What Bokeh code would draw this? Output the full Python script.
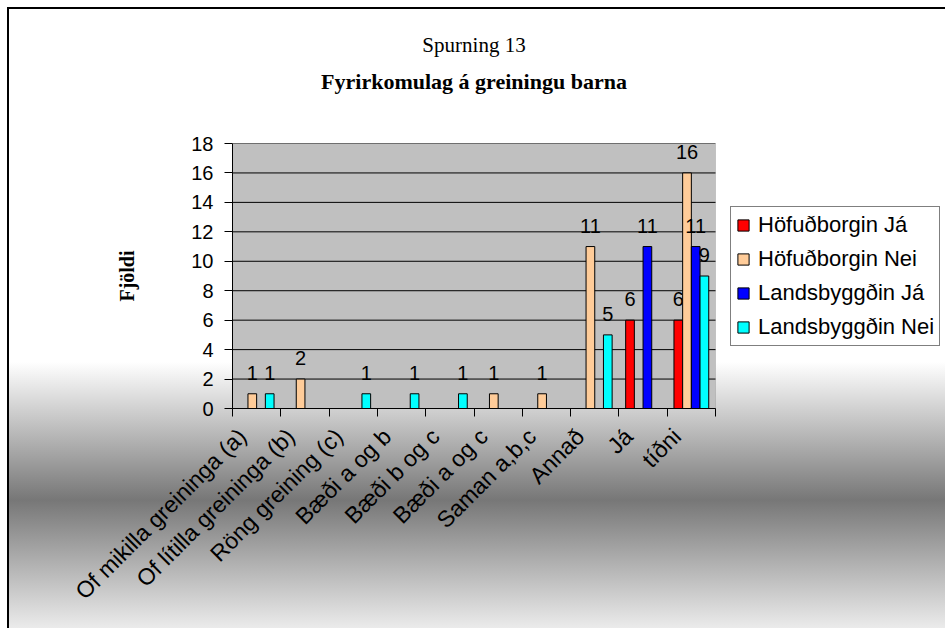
import math
from bokeh.plotting import figure
from bokeh.layouts import column
from bokeh.models import (Range1d, FixedTicker, Legend, LegendItem, Label,
                          BoxAnnotation, ColumnDataSource)
from bokeh.core.properties import value
from bokeh.embed import file_html
from bokeh.resources import INLINE

# ---- data ----
categories = ["Of mikilla greininga (a)", "Of lítilla greininga (b)", "Röng greining (c)",
              "Bæði a og b", "Bæði b og c", "Bæði a og c", "Saman a,b,c", "Annað",
              "Já", "tíðni"]
series_names = ["Höfuðborgin Já", "Höfuðborgin Nei", "Landsbyggðin Já", "Landsbyggðin Nei"]
hofudborgin_ja = [0, 0, 0, 0, 0, 0, 0, 0, 6, 6]
hofudborgin_nei = [1, 2, 0, 0, 0, 1, 1, 11, 0, 16]
landsbyggdin_ja = [0, 0, 0, 0, 0, 0, 0, 0, 11, 11]
landsbyggdin_nei = [1, 0, 1, 1, 1, 0, 0, 5, 0, 9]
y_ticks = list(range(0, 19, 2))
y_max = 18
title_text = "Spurning 13"
subtitle_text = "Fyrirkomulag á greiningu barna"
y_title = "Fjöldi"

series_values = [hofudborgin_ja, hofudborgin_nei, landsbyggdin_ja, landsbyggdin_nei]
colors = ["#FF0000", "#FFCC99", "#0000FF", "#00FFFF"]

SANS = "Liberation Sans"
SERIF = "Liberation Serif"

# layout (pixels)
W = 945
TOP_H = 123                     # height of the title strip
GAP_TOP = 20                    # space above the grey plot area in the chart
LEFT, BOTTOM = 232, 220
PLOT_W, PLOT_H = 483, 265       # grey plot area
FRAME_W = W - LEFT
ncat = len(categories)

x_range = Range1d(0, ncat * FRAME_W / PLOT_W)

# ---------- title strip ----------
pt = figure(width=W, height=TOP_H, x_range=x_range, y_range=Range1d(0, 1),
            output_backend="svg", toolbar_location=None, title=None,
            x_axis_location=None, y_axis_location=None,
            min_border_left=LEFT, min_border_right=0, min_border_top=0, min_border_bottom=0,
            background_fill_color=None, border_fill_color=None, outline_line_color=None)
pt.grid.grid_line_color = None
pt.add_layout(Label(x=ncat / 2, y=79, x_units="data", y_units="screen", text=title_text,
                    text_font=SERIF, text_font_size="21px", text_align="center",
                    text_baseline="alphabetic", text_color="black"))
pt.add_layout(Label(x=ncat / 2, y=42, x_units="data", y_units="screen", text=subtitle_text,
                    text_font=SERIF, text_font_size="22px", text_font_style="bold",
                    text_align="center", text_baseline="alphabetic", text_color="black"))

# ---------- chart ----------
p = figure(width=W, height=GAP_TOP + PLOT_H + BOTTOM,
           x_range=x_range, y_range=Range1d(0, y_max),
           output_backend="svg", toolbar_location=None, title=None,
           min_border_left=LEFT, min_border_right=0, min_border_top=GAP_TOP,
           min_border_bottom=BOTTOM, background_fill_color=None,
           border_fill_color=None, outline_line_color=None)

# grey plot area
p.add_layout(BoxAnnotation(left=0, right=ncat, bottom=0, top=y_max,
                           fill_color="#C0C0C0", fill_alpha=1,
                           line_color="#808080", line_width=1, level="underlay"))

# horizontal grid lines
p.segment(x0=[0] * len(y_ticks), x1=[ncat] * len(y_ticks), y0=y_ticks, y1=y_ticks,
          line_color="black", line_width=1)

bar_w = 0.18
offsets = [-1.5 * bar_w, -0.5 * bar_w, 0.5 * bar_w, 1.5 * bar_w]
renderers = []
for name, vals, col, off in zip(series_names, series_values, colors, offsets):
    xs = [i + 0.5 + off for i, v in enumerate(vals) if v > 0]
    ys = [v for v in vals if v > 0]
    src = ColumnDataSource(dict(x=xs, top=ys, lab=[str(v) for v in ys]))
    r = p.vbar(x="x", top="top", width=bar_w, source=src, fill_color=col,
               line_color="black", line_width=1)
    renderers.append(r)
    p.text(x="x", y="top", text="lab", source=src, text_align="center",
           text_baseline="alphabetic", y_offset=-21, text_font=value(SANS),
           text_font_size="20px", text_color="black")

# axes
label_shift = 0.3   # rotated labels sit slightly left of the category centre
xa = p.xaxis[0]
xa.bounds = (0, ncat)
xa.ticker = FixedTicker(ticks=[i + 0.5 - label_shift for i in range(ncat)],
                        minor_ticks=list(range(ncat + 1)))
xa.major_label_overrides = {i + 0.5 - label_shift: c for i, c in enumerate(categories)}
xa.major_tick_out = 0
xa.major_tick_in = 0
xa.major_tick_line_color = None
xa.minor_tick_out = 8
xa.minor_tick_in = 0
xa.minor_tick_line_color = "black"
xa.axis_line_color = "black"
xa.major_label_orientation = math.pi / 4
xa.major_label_text_font = SANS
xa.major_label_text_font_size = "23px"
xa.major_label_text_color = "black"
xa.major_label_standoff = 16

ya = p.yaxis[0]
ya.bounds = (0, y_max)
ya.ticker = FixedTicker(ticks=y_ticks)
ya.major_tick_out = 8
ya.major_tick_in = 0
ya.minor_tick_line_color = None
ya.major_tick_line_color = "black"
ya.axis_line_color = "black"
ya.major_label_text_font = SANS
ya.major_label_text_font_size = "20px"
ya.major_label_text_color = "black"
ya.major_label_standoff = 11
ya.axis_label = y_title
ya.axis_label_text_font = SERIF
ya.axis_label_text_font_style = "bold"
ya.axis_label_text_font_size = "20px"
ya.axis_label_text_color = "black"
ya.axis_label_standoff = 50

p.xgrid.grid_line_color = None
p.ygrid.grid_line_color = None

legend = Legend(items=[LegendItem(label=n, renderers=[r]) for n, r in zip(series_names, renderers)],
                location=(498, 62), label_text_font=SANS, label_text_font_size="22px",
                label_text_color="black",
                glyph_width=14, glyph_height=14, label_standoff=8, spacing=8,
                label_height=20, padding=5, margin=0, border_line_color="black",
                border_line_width=1, background_fill_color="white",
                background_fill_alpha=1)
p.add_layout(legend, "center")

layout = column(pt, p, spacing=0)
layout.styles = {
    "background": "linear-gradient(to bottom, #ffffff 0px, #ffffff 362px, #777777 500px, #ebebeb 628px)",
    "box-shadow": "inset 7px 7px 0 0 #ffffff, inset 9px 9px 0 0 #000000",
}

open("out.html", "w").write(file_html(layout, INLINE))
